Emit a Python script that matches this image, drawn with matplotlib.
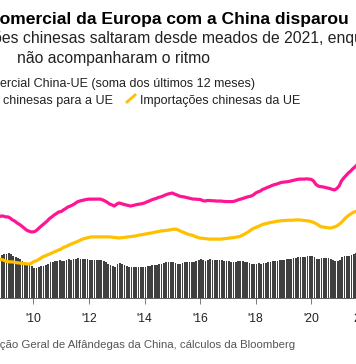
import matplotlib
matplotlib.use("Agg")
import matplotlib.pyplot as plt
from matplotlib.lines import Line2D
import numpy as np
import pandas as pd

plt.rcParams["font.family"] = ["Liberation Sans", "DejaVu Sans"]

# 12-month rolling sums, billions of USD, monthly from Jan 2008
exports_to_eu = [
    259, 263, 266, 270, 274, 277, 281, 284, 288, 292, 295, 295,  # 2008
    292, 292, 288, 281, 277, 270, 265, 259, 252, 245, 241, 238,  # 2009
    238, 241, 248, 256, 263, 270, 277, 286, 292, 299, 304, 310,  # 2010
    311, 317, 322, 328, 331, 335, 340, 346, 349, 351, 353, 355,  # 2011
    356, 356, 356, 356, 356, 356, 353, 349, 344, 338, 335, 331,  # 2012
    338, 342, 340, 337, 335, 333, 331, 333, 335, 337, 338, 340,  # 2013
    342, 346, 349, 353, 356, 358, 362, 364, 367, 371, 374, 376,  # 2014
    378, 374, 371, 367, 365, 364, 362, 360, 358, 356, 356, 355,  # 2015
    355, 351, 349, 351, 351, 350, 350, 349, 349, 349, 348, 347,  # 2016
    347, 347, 347, 349, 352, 355, 357, 360, 363, 365, 367, 371,  # 2017
    378, 382, 385, 391, 394, 398, 401, 405, 408, 410, 413, 416,  # 2018
    417, 418, 419, 421, 423, 425, 427, 428, 428, 428, 429, 428,  # 2019
    427, 421, 409, 403, 401, 400, 398, 396, 394, 391, 389, 394,  # 2020
    403, 421, 432, 441, 450, 457, 466, 473, 482,                 # 2021
]
imports_from_eu = [
    126, 128, 130, 131, 133, 135, 137, 137, 139, 139, 139, 137,  # 2008
    133, 131, 130, 130, 128, 127, 126, 125, 124, 123, 122, 124,  # 2009
    130, 133, 137, 142, 148, 151, 155, 158, 162, 166, 169, 173,  # 2010
    176, 182, 185, 189, 193, 196, 200, 203, 207, 211, 214, 216,  # 2011
    218, 220, 220, 220, 220, 220, 220, 220, 220, 220, 219, 218,  # 2012
    217, 216, 217, 218, 219, 220, 221, 222, 223, 225, 227, 228,  # 2013
    230, 231, 233, 234, 236, 238, 239, 241, 242, 243, 244, 245,  # 2014
    247, 248, 247, 243, 239, 236, 232, 229, 227, 225, 221, 218,  # 2015
    216, 215, 214, 213, 212, 212, 212, 212, 212, 212, 213, 214,  # 2016
    215, 216, 217, 218, 220, 221, 225, 229, 234, 239, 245, 250,  # 2017
    254, 257, 261, 265, 267, 269, 271, 273, 274, 276, 277, 278,  # 2018
    279, 279, 280, 280, 280, 281, 281, 281, 280, 279, 278, 277,  # 2019
    275, 272, 268, 263, 257, 256, 254, 253, 252, 253, 256, 259,  # 2020
    265, 272, 281, 290, 297, 302, 308, 311, 315,                 # 2021
]
tick_years = [2008, 2010, 2012, 2014, 2016, 2018, 2020, 2022]
tick_labels = ["2008", "'10", "'12", "'14", "'16", "'18", "'20", "2022"]

months = pd.date_range("2008-01-01", periods=len(exports_to_eu), freq="MS")
t = months.year + (months.month - 1) / 12
exp = np.array(exports_to_eu)
imp = np.array(imports_from_eu)
balance = exp - imp

W, H = 356, 364
fig = plt.figure(figsize=(W / 100, H / 100), dpi=100)


def fx(px):
    return px / W


def fy(py):
    return 1 - py / H


# axes stretched past the figure edges so the picture is cropped like the original
ax = fig.add_axes([fx(-40), fy(298), fx(440), fy(108) - fy(298)])
ax.set_xlim(2007.363, 2023.191)
ax.set_ylim(0, 684)

ax.bar(t, balance, width=0.75 / 12, align="edge", color="#404040", linewidth=0)
ax.plot(t, imp, color="#ffc000", lw=2.3, solid_capstyle="round")
ax.plot(t, exp, color="#ff1493", lw=2.3, solid_capstyle="round")

for s in ["top", "left", "right"]:
    ax.spines[s].set_visible(False)
ax.spines["bottom"].set_color("#444444")
ax.spines["bottom"].set_linewidth(0.6)
ax.set_yticks([])
ax.set_xticks(tick_years)
ax.set_xticklabels(tick_labels)
ax.tick_params(axis="x", length=4, width=0.6, color="#666666", pad=7,
               labelsize=8.7, labelcolor="#222222")

# header texts
fig.text(fx(349), fy(24), "O déficit comercial da Europa com a China disparou",
         ha="right", va="baseline", fontsize=12.6, fontweight="bold", color="#000000")
fig.text(fx(19), fy(43), "As exportações", ha="right", va="baseline",
         fontsize=11.3, color="#222222")
fig.text(fx(23), fy(43), "chinesas saltaram desde meados de 2021, enquanto",
         ha="left", va="baseline", fontsize=11.3, color="#222222")
fig.text(fx(17), fy(63), "não acompanharam o ritmo", ha="left", va="baseline",
         fontsize=11.3, color="#222222")

fig.text(fx(255), fy(87), "Saldo comercial China-UE (soma dos últimos 12 meses)",
         ha="right", va="baseline", fontsize=9, color="#222222")
fig.text(fx(113), fy(104), "Exportações chinesas para a UE",
         ha="right", va="baseline", fontsize=9, color="#222222")
fig.add_artist(Line2D([fx(127), fx(135)], [fy(102), fy(95)],
                      color="#ffc000", lw=2, transform=fig.transFigure))
fig.text(fx(140), fy(104), "Importações chinesas da UE",
         ha="left", va="baseline", fontsize=9, color="#222222")

fig.text(fx(295), fy(348),
         "Fonte: Administração Geral de Alfândegas da China, cálculos da Bloomberg",
         ha="right", va="baseline", fontsize=8.2, color="#555555")

fig.savefig("out.png", dpi=100)
